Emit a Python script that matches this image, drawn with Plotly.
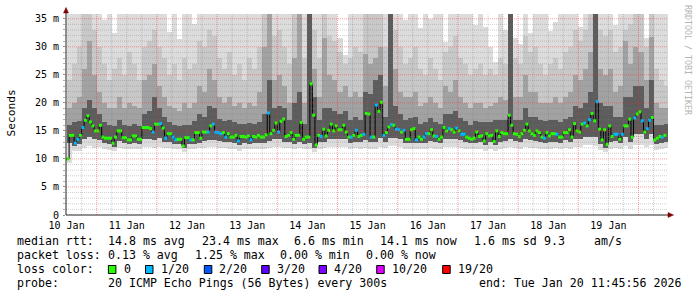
import plotly.graph_objects as go
from datetime import datetime, timedelta

# ---------------- data ----------------
# hourly median RTT (ms), first bin starts 2026-01-10 12:00
median_ms = [
    10.0, 14.2, 14.2, 12.8, 13.5, 14.2, 15.6, 16.9, 17.7, 16.6,
    15.9, 15.0, 15.0, 16.0, 13.9, 13.7, 13.7, 13.7, 12.8, 13.9,
    15.0, 15.0, 13.8, 13.8, 13.4, 13.4, 14.1, 14.1, 13.5, 13.5,
    15.6, 15.6, 15.6, 15.4, 14.8, 16.2, 16.2, 16.3, 15.5, 13.7,
    14.5, 14.5, 13.9, 13.4, 13.5, 13.5, 12.3, 13.8, 13.8, 13.4,
    13.4, 14.7, 14.7, 13.7, 14.8, 14.8, 14.8, 15.9, 16.2, 14.8,
    14.7, 14.5, 14.7, 13.9, 14.5, 13.9, 13.9, 14.2, 13.2, 14.0,
    14.0, 13.9, 14.1, 13.4, 14.0, 13.9, 14.2, 13.9, 13.9, 14.3,
    18.2, 14.5, 15.1, 16.4, 14.8, 16.7, 17.1, 14.0, 14.2, 14.7,
    13.5, 14.2, 14.2, 16.5, 13.5, 13.9, 13.9, 23.4, 17.8, 12.5,
    14.2, 14.0, 15.3, 14.1, 15.1, 16.2, 15.0, 15.9, 15.2, 15.2,
    16.0, 14.8, 13.9, 13.9, 14.2, 15.1, 14.0, 14.2, 14.4, 18.1,
    18.0, 13.9, 13.9, 19.6, 18.5, 20.1, 14.2, 14.7, 15.7, 16.1,
    16.0, 15.3, 15.2, 14.8, 15.1, 13.5, 13.5, 15.2, 15.4, 13.4,
    13.9, 13.5, 13.9, 14.5, 14.5, 15.2, 14.1, 14.0, 13.5, 13.9,
    15.6, 15.0, 15.4, 15.2, 14.8, 15.5, 15.0, 14.4, 14.4, 13.9,
    13.7, 13.5, 13.7, 14.8, 14.0, 14.1, 13.2, 14.5, 14.1, 14.2,
    13.1, 15.0, 14.0, 14.7, 14.5, 14.5, 17.8, 16.0, 14.5, 14.4,
    14.0, 14.5, 15.1, 16.2, 15.0, 14.5, 14.2, 15.0, 14.7, 13.9,
    13.7, 14.7, 14.1, 14.5, 14.5, 14.4, 13.9, 13.9, 14.7, 14.7,
    15.2, 13.9, 16.3, 15.0, 14.8, 16.2, 16.4, 15.9, 17.0, 18.1,
    16.8, 20.2, 15.3, 13.4, 15.2, 12.6, 15.9, 14.0, 14.4, 14.4,
    13.5, 14.4, 15.9, 15.9, 17.1, 13.9, 17.3, 18.0, 18.4, 16.8,
    14.8, 15.4, 16.9, 17.4, 13.4, 13.7, 14.0, 13.9, 14.2,
]

# loss bucket per hour (lost pings out of 20, bucketed)
loss_bucket = [
    0, 0, 0, 1, 1, 0, 1, 0, 0, 0,
    0, 0, 0, 0, 0, 0, 0, 0, 0, 0,
    0, 0, 0, 0, 0, 0, 0, 0, 0, 0,
    0, 0, 0, 0, 1, 0, 0, 1, 0, 1,
    0, 0, 1, 1, 0, 0, 0, 0, 0, 1,
    0, 0, 0, 0, 0, 0, 1, 0, 1, 1,
    1, 1, 0, 1, 0, 0, 0, 0, 1, 0,
    0, 0, 0, 1, 0, 0, 0, 0, 0, 0,
    1, 0, 0, 0, 1, 0, 0, 0, 0, 0,
    0, 0, 0, 0, 0, 0, 0, 0, 0, 0,
    0, 1, 0, 0, 0, 0, 0, 0, 0, 0,
    0, 0, 0, 1, 0, 1, 0, 0, 1, 0,
    0, 1, 0, 1, 0, 0, 1, 0, 0, 1,
    0, 1, 1, 0, 1, 0, 0, 0, 0, 1,
    0, 0, 1, 1, 0, 0, 0, 1, 0, 0,
    0, 0, 1, 0, 0, 1, 0, 1, 1, 0,
    0, 0, 0, 0, 0, 0, 0, 0, 0, 0,
    0, 0, 0, 0, 0, 0, 0, 0, 0, 0,
    0, 0, 0, 0, 0, 0, 0, 0, 0, 0,
    1, 0, 0, 0, 0, 1, 0, 0, 0, 0,
    0, 0, 0, 0, 0, 0, 1, 0, 1, 0,
    0, 1, 0, 0, 0, 0, 0, 0, 1, 1,
    0, 1, 0, 0, 0, 0, 1, 0, 0, 1,
    0, 1, 1, 0, 0, 0, 0, 1, 0,
]

# smoke (ping distribution) per 2-hour column, ms
smoke_top = [
    36, 36, 36, 36, 36, 36, 36, 34.8, 36, 32.5,
    36, 36, 36, 36, 36, 36, 36, 36, 36, 36,
    32.6, 36, 31.4, 36, 36, 34.0, 36, 36, 36, 36,
    36, 36, 36, 36, 36, 36, 36, 36, 36, 36,
    36, 36, 36, 36, 36, 36, 36, 36, 36, 36,
    36, 36, 36, 36, 31.5, 28.6, 36, 36, 36, 36,
    36, 36, 36, 36, 36, 36, 36, 34.8, 36, 36,
    33.3, 36, 35.0, 36, 36, 30.9, 36, 36, 36, 36,
    36, 33.8, 36, 33.6, 30.0, 27.3, 36, 33.0, 36, 31.5,
    30.5, 36, 32.4, 36, 36, 36, 32.8, 34.5, 36, 36,
    36, 36, 33.5, 36, 36, 36, 36, 36, 36, 33.8,
    36, 36, 36, 36, 36, 31.5, 36, 36, 36, 36,
]
smoke_hi2 = [
    24, 27, 30, 36, 36, 33, 30, 27, 24, 26,
    28, 25, 29, 27, 24, 30, 31, 33, 30, 28,
    25, 27, 24, 28, 26, 27, 31, 30, 33, 32,
    28, 26, 29, 25, 27, 24, 28, 26, 30, 36,
    36, 32, 33, 30, 27, 36, 36, 28, 36, 33,
    28, 36, 32, 31, 29, 27, 28, 30, 29, 36,
    36, 36, 36, 30, 36, 33, 30, 27, 28, 30,
    26, 25, 28, 26, 24, 29, 30, 32, 28, 27,
    25, 26, 27, 25, 26, 25, 28, 27, 36, 28,
    27, 32, 29, 30, 27, 25, 27, 28, 26, 29,
    30, 33, 31, 33, 36, 36, 33, 32, 33, 29,
    30, 33, 34, 36, 36, 30, 36, 26, 24, 23,
]
smoke_hi3 = [
    19, 20, 21, 26, 31, 25, 22, 20, 19, 19,
    21, 19, 20, 19.5, 19, 24, 25, 27, 23, 21,
    19.5, 19, 18.5, 20, 19, 20, 23, 22, 26, 24,
    21, 20, 21, 19.5, 20, 19, 20, 19.5, 22, 30,
    36, 24, 25, 23, 20, 28, 36, 20, 36, 26,
    21, 31.6, 25, 24, 22, 23, 21, 22, 21, 28.7,
    27, 28, 30, 23, 36, 26, 22, 21, 21, 22,
    19.5, 20, 21, 20, 19, 23, 22, 24, 21, 20,
    19, 20, 20, 19, 19.5, 20, 21, 20.5, 36, 21,
    21, 25, 22, 22, 20, 20, 20, 21, 20, 21,
    22, 25, 24, 26, 29, 36, 26, 25, 26, 22,
    23, 31, 27, 30, 29, 24, 31.7, 20, 19, 19,
]
smoke_hi4 = [
    16.0, 16.5, 16.8, 19.0, 20.5, 19.0, 18.0, 16.5, 16.0, 15.8,
    17.0, 16.0, 15.8, 16.2, 15.8, 18.0, 18.5, 21.0, 19.0, 17.5,
    16.5, 16.0, 15.8, 16.0, 16.0, 16.8, 18.0, 17.5, 19.5, 19.0,
    17.2, 16.8, 17.0, 16.5, 16.2, 16.3, 16.4, 16.3, 16.6, 18.0,
    24.0, 19.0, 19.5, 19.0, 17.0, 20.0, 22.0, 16.2, 36.0, 21.0,
    17.0, 19.0, 19.0, 18.5, 18.0, 18.5, 17.0, 17.5, 17.0, 22.0,
    21.5, 24.0, 25.0, 17.5, 36.0, 19.5, 18.0, 17.0, 17.3, 17.5,
    16.3, 16.6, 17.3, 16.5, 16.2, 18.0, 18.0, 18.5, 17.3, 16.8,
    16.0, 16.8, 16.5, 16.6, 16.5, 17.0, 17.0, 17.0, 36.0, 17.0,
    17.0, 19.0, 17.5, 17.5, 17.0, 16.8, 17.0, 17.0, 16.5, 17.2,
    17.5, 19.5, 19.0, 20.0, 22.0, 36.0, 20.0, 19.5, 19.5, 17.5,
    17.5, 21.0, 21.0, 23.0, 23.0, 19.0, 24.0, 16.0, 16.0, 16.2,
]
smoke_lo4 = [
    12.8, 12.3, 12.6, 13.6, 14.0, 13.5, 13.4, 12.8, 12.7, 12.2,
    13.2, 12.9, 12.6, 12.9, 12.7, 13.6, 13.5, 13.4, 13.8, 13.0,
    13.0, 12.6, 12.7, 12.0, 12.7, 12.7, 12.9, 13.2, 13.4, 13.3,
    13.2, 13.0, 13.0, 12.9, 12.4, 12.9, 12.6, 12.9, 12.9, 12.9,
    13.2, 13.6, 13.5, 13.1, 13.1, 12.7, 13.1, 12.7, 12.9, 12.0,
    13.0, 13.0, 13.6, 13.6, 13.6, 13.5, 12.9, 13.1, 13.0, 13.3,
    13.0, 13.0, 13.8, 13.1, 13.8, 13.8, 13.5, 12.8, 12.8, 12.8,
    12.8, 12.9, 13.2, 13.0, 12.8, 13.5, 13.6, 13.5, 13.3, 13.0,
    12.8, 12.8, 13.0, 12.5, 13.0, 12.4, 13.0, 13.2, 13.6, 13.2,
    13.0, 13.6, 13.4, 13.2, 13.0, 12.8, 13.0, 13.1, 12.9, 13.3,
    13.0, 13.6, 13.5, 13.9, 14.0, 14.0, 12.6, 12.0, 13.0, 13.2,
    12.8, 13.9, 13.0, 14.5, 14.4, 13.5, 14.4, 12.7, 12.9, 13.1,
]
smoke_lo1 = [
    9.3, 11.4, 11.5, 12.0, 12.3, 12.0, 12.1, 11.8, 11.6, 11.4,
    12.0, 11.8, 11.7, 11.8, 11.8, 12.2, 12.1, 12.0, 12.2, 11.9,
    11.9, 11.7, 11.8, 11.2, 11.8, 11.8, 11.9, 12.0, 12.1, 12.1,
    12.0, 11.9, 11.8, 11.7, 11.5, 11.8, 11.7, 11.8, 11.8, 11.8,
    11.9, 12.2, 12.1, 11.9, 11.9, 11.7, 11.9, 11.7, 11.7, 11.3,
    11.8, 11.9, 12.2, 12.2, 12.2, 12.1, 11.8, 11.9, 11.8, 11.9,
    11.8, 11.8, 12.2, 11.9, 12.3, 12.3, 12.1, 11.8, 11.8, 11.7,
    11.7, 11.8, 12.0, 11.8, 11.7, 12.1, 12.2, 12.1, 12.0, 11.8,
    11.7, 11.7, 11.8, 11.5, 11.8, 11.4, 11.8, 12.0, 12.2, 11.9,
    11.8, 12.2, 12.0, 11.9, 11.8, 11.7, 11.8, 11.9, 11.8, 12.0,
    11.8, 12.2, 12.1, 12.4, 12.4, 12.3, 11.6, 11.2, 11.8, 11.9,
    11.7, 12.3, 11.8, 12.5, 12.5, 12.1, 12.5, 11.6, 11.8, 12.0,
]

y_tick_vals = [0, 5, 10, 15, 20, 25, 30, 35]
y_tick_text = ["0", "5 m", "10 m", "15 m", "20 m", "25 m", "30 m", "35 m"]
day_numbers = [10, 11, 12, 13, 14, 15, 16, 17, 18, 19]
day_labels = ["10 Jan", "11 Jan", "12 Jan", "13 Jan", "14 Jan",
              "15 Jan", "16 Jan", "17 Jan", "18 Jan", "19 Jan"]

loss_levels = [0, 1, 2, 3, 4, 10, 19]
loss_labels = ["0", "1/20", "2/20", "3/20", "4/20", "10/20", "19/20"]
loss_colors = ["#26ff00", "#00b8ff", "#0059ff", "#5e00ff", "#7e00ff", "#dd00ff", "#ff0000"]

stats_lines = [
    ["median rtt:", "14.8 ms avg", "23.4 ms max", "6.6 ms min", "14.1 ms now", "1.6 ms sd", "9.3", "am/s"],
    ["packet loss:", "0.13 % avg", "1.25 % max", "0.00 % min", "0.00 % now"],
    ["probe:", "20 ICMP Echo Pings (56 Bytes) every 300s", "end: Tue Jan 20 11:45:56 2026"],
]

# ---------------- geometry helpers (layout only) ----------------
W, H = 697, 297
L, R, T, B = 66, 668, 14, 215
PW, PH = R - L, B - T


def px(X):
    return (X - L) / PW


def py(Y):
    return (B - Y) / PH


MONO = "DejaVu Sans Mono"
first_bin = datetime(2026, 1, 10, 12, 0, 0)
t_start = datetime(2026, 1, 10, 11, 45, 56)
t_end = datetime(2026, 1, 20, 11, 45, 56)

fig = go.Figure()

# smoke layers (outer -> inner)
col_x = [first_bin + timedelta(hours=2 * k + 1) for k in range(len(smoke_top))]
col_w = 2 * 3600 * 1000
layers = [
    (smoke_lo1, smoke_top, "#dcdcdc"),
    (smoke_lo4, smoke_hi2, "#c8c8c8"),
    (smoke_lo4, smoke_hi3, "#a2a2a2"),
    (smoke_lo4, smoke_hi4, "#5c5c5c"),
]
for lo, hi, col in layers:
    fig.add_trace(go.Bar(
        x=col_x, base=lo, y=[h - l for h, l in zip(hi, lo)],
        width=[col_w] * len(col_x), marker=dict(color=col, line=dict(width=0)),
        hoverinfo="skip", showlegend=False,
    ))

# median step line
bin_x = [first_bin + timedelta(hours=i) for i in range(len(median_ms))]
fig.add_trace(go.Scatter(
    x=bin_x, y=median_ms, mode="lines", line=dict(color="#000000", width=1, shape="hv"),
    hoverinfo="skip", showlegend=False,
))
# loss-coloured median marks
color_of = dict(zip(loss_levels, loss_colors))
mid_x = [first_bin + timedelta(hours=i, minutes=30) for i in range(len(median_ms))]
fig.add_trace(go.Scatter(
    x=mid_x, y=median_ms, mode="markers",
    marker=dict(symbol="square", size=3, color=[color_of[b] for b in loss_bucket], line=dict(width=0)),
    hoverinfo="skip", showlegend=False,
))

shapes = []
# horizontal grid (1 m minor, 5 m major)
for v in range(1, 36):
    major = v % 5 == 0
    shapes.append(dict(type="line", xref="paper", yref="y", x0=0, x1=1, y0=v, y1=v, layer="above",
                       line=dict(color="rgba(255,40,40,0.45)" if major else "rgba(120,120,120,0.35)",
                                 width=1, dash="1px,1px")))
# vertical grid (6 h minor, midnight major)
t = datetime(2026, 1, 10, 18, 0, 0)
while t < t_end:
    major = t.hour == 0
    shapes.append(dict(type="line", xref="x", yref="paper", x0=t, x1=t, y0=0, y1=1, layer="above",
                       line=dict(color="rgba(255,40,40,0.45)" if major else "rgba(120,120,120,0.35)",
                                 width=1, dash="1px,1px")))
    t += timedelta(hours=6)
# axes lines + arrows
shapes.append(dict(type="line", xref="paper", yref="paper", x0=0, x1=1, y0=0, y1=0,
                   line=dict(color="#202020", width=1), layer="above"))
shapes.append(dict(type="line", xref="paper", yref="paper", x0=0, x1=0, y0=0, y1=py(12),
                   line=dict(color="#202020", width=1), layer="above"))
shapes.append(dict(type="path", xref="paper", yref="paper",
                   path=f"M {px(63.5)} {py(13)} L {px(68.5)} {py(13)} L {px(66)} {py(7.5)} Z",
                   fillcolor="#7f0000", line=dict(color="#7f0000", width=0.5), layer="above"))
shapes.append(dict(type="path", xref="paper", yref="paper",
                   path=f"M {px(668)} {py(212.5)} L {px(668)} {py(217.5)} L {px(673.5)} {py(215)} Z",
                   fillcolor="#7f0000", line=dict(color="#7f0000", width=0.5), layer="above"))

annotations = []


def text_at(s, X, Yb, size=11.6, color="#000000"):
    annotations.append(dict(text=s, xref="paper", yref="paper", x=px(X), y=py(Yb - 3.8),
                            xanchor="left", yanchor="middle", showarrow=False, borderpad=0,
                            font=dict(family=MONO, size=size, color=color)))


line1_x = [16, 107.3, 200.7, 293.3, 379.3, 472.7, 542.7, 593]
line2_x = [16, 107.3, 194, 279, 365]
line4_x = [16, 107.3, 478]
for s, X in zip(stats_lines[0], line1_x):
    text_at(s, X, 244.5)
for s, X in zip(stats_lines[1], line2_x):
    text_at(s, X, 258.7)
text_at("loss color:", 16, 272.8)
box_x = [108.4, 145.5, 204.3, 261.7, 319, 376.7, 442.7]
lab_x = [122.8, 159.7, 218.3, 275.7, 333.3, 390.7, 457]
for lab, colr, bx, lx in zip(loss_labels, loss_colors, box_x, lab_x):
    shapes.append(dict(type="rect", xref="paper", yref="paper", x0=px(bx), x1=px(bx + 7.5),
                       y0=py(273.5), y1=py(265.5), fillcolor=colr, line=dict(color="#000000", width=1)))
    text_at(lab, lx, 272.8)
for s, X in zip(stats_lines[2], line4_x):
    text_at(s, X, 287)

annotations.append(dict(text="Seconds", xref="paper", yref="paper", x=px(11), y=py(113.5),
                        textangle=-90, showarrow=False, xanchor="center", yanchor="middle",
                        font=dict(family=MONO, size=11.2, color="#000000")))
annotations.append(dict(text="RRDTOOL / TOBI OETIKER", xref="paper", yref="paper", x=px(688), y=py(60),
                        textangle=90, showarrow=False, xanchor="center", yanchor="middle",
                        font=dict(family=MONO, size=8.3, color="#b4b4b4")))

fig.update_layout(
    width=W, height=H,
    margin=dict(l=L, r=W - R, t=T, b=H - B, pad=0),
    paper_bgcolor="#ffffff", plot_bgcolor="#ffffff",
    barmode="overlay", bargap=0, showlegend=False,
    shapes=shapes, annotations=annotations,
    xaxis=dict(type="date", range=[t_start, t_end], showgrid=False, zeroline=False, showline=False,
               tickvals=[datetime(2026, 1, d, 12) for d in day_numbers], ticktext=day_labels,
               ticks="", ticklabelstandoff=3,
               tickfont=dict(family=MONO, size=10, color="#000000")),
    yaxis=dict(range=[0, 35.85], showgrid=False, zeroline=False, showline=False,
               tickvals=y_tick_vals, ticktext=y_tick_text, ticks="outside", ticklen=2,
               tickcolor="#909090", ticklabelstandoff=2,
               minor=dict(dtick=1, ticks="outside", ticklen=2, tickcolor="#b0b0b0"),
               tickfont=dict(family=MONO, size=10, color="#000000")),
)

fig.write_html("out.html")
